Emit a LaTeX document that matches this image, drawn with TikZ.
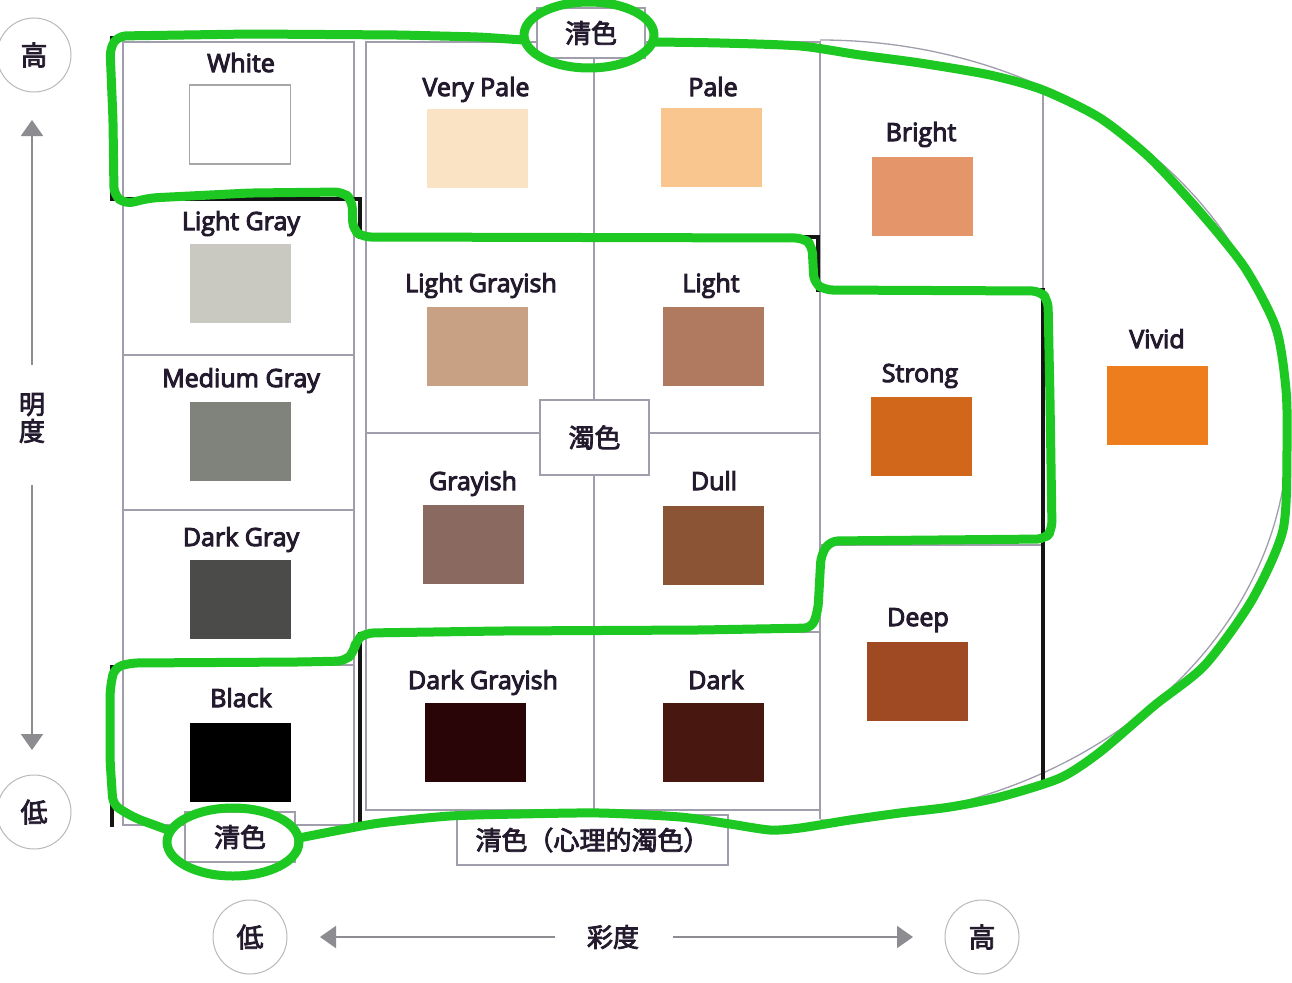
\documentclass[tikz,border=0pt]{standalone}
\usepackage{fontspec}
\setmainfont{Open Sans}
\newfontfamily\labfont{Open Sans}[FakeBold=4]
\newfontfamily\cjk{Noto Sans CJK JP}[FakeBold=3]
\usetikzlibrary{arrows.meta}
\definecolor{ink}{RGB}{35,26,46}
\definecolor{gridc}{RGB}{160,158,172}
\definecolor{axisc}{RGB}{140,140,145}
\definecolor{hand}{RGB}{30,200,35}
\definecolor{cVeryPale}{HTML}{FAE3C4}
\definecolor{cPale}{HTML}{F9C690}
\definecolor{cBright}{HTML}{E5956A}
\definecolor{cLightGray}{HTML}{C9C9C1}
\definecolor{cLightGrayish}{HTML}{C8A083}
\definecolor{cLight}{HTML}{AF7A60}
\definecolor{cVivid}{HTML}{EE7D1D}
\definecolor{cStrong}{HTML}{D0671A}
\definecolor{cMediumGray}{HTML}{80827C}
\definecolor{cGrayish}{HTML}{8A6A60}
\definecolor{cDull}{HTML}{8B5535}
\definecolor{cDarkGray}{HTML}{4B4C49}
\definecolor{cDeep}{HTML}{A04A24}
\definecolor{cDarkGrayish}{HTML}{2A0507}
\definecolor{cDark}{HTML}{48170F}
\begin{document}
\begin{tikzpicture}[x=1pt,y=-1pt,
  gridline/.style={draw=gridc, line width=1.3pt},
  blk/.style={draw=black!92, line width=4pt},
  lab/.style={font=\labfont\fontsize{25}{28}\selectfont, text=ink, inner sep=0pt, anchor=base},
  sw/.style={minimum width=101pt, minimum height=79pt, inner sep=0pt, draw=none},
  cj/.style={font=\cjk\fontsize{26}{27}\selectfont, text=ink, inner sep=0pt, align=center},
  circ/.style={circle, draw=gray!55, line width=1pt, minimum size=74pt, inner sep=0pt, fill=white, font=\cjk\fontsize{27}{30}\selectfont, text=ink},
  tagbox/.style={draw=gridc, line width=1.2pt, fill=white, inner sep=0pt, font=\cjk\fontsize{26}{30}\selectfont, text=ink},
  arr/.style={draw=axisc, line width=2pt, -{Triangle[width=22pt,length=16pt]}},
  gline/.style={draw=hand, line width=9pt, line cap=round, line join=round}
]
\fill[white] (0,0) rectangle (1292,982);
\useasboundingbox (0,0) rectangle (1292,982);

% ---- thin grid ----
\draw[gridline] (123,42) rectangle (354,825);
\draw[gridline] (123,355) -- (354,355);
\draw[gridline] (123,510) -- (354,510);
\draw[gridline] (123,665) -- (354,665);
\draw[gridline] (366,42) rectangle (820,810);
\draw[gridline] (594,42) -- (594,810);
\draw[gridline] (366,237) -- (820,237);
\draw[gridline] (366,433) -- (820,433);
\draw[gridline] (366,632) -- (820,632);
\draw[gridline] (820,810) -- (820,819);
\draw[gridline] (820,290) -- (1043,290);
\draw[gridline] (820,545) -- (1043,545);
\draw[gridline] (1043,88) -- (1043,290);
\draw[gridline] (820,40) arc[start angle=-90, end angle=90, x radius=468, y radius=390];

% ---- thick dark edges ----
\draw[blk] (112,36) -- (112,199) -- (360,199) -- (360,237) -- (818,237) -- (818,290) -- (1043,290) -- (1043,780);
\draw[blk] (112,665) -- (112,827);
\draw[blk] (360,632) -- (360,827);
\draw[black, line width=2pt, dash pattern=on 7pt off 4pt] (560,627) -- (740,627);

% ---- swatches ----
\node[sw, draw=gray!70, line width=1.2pt, fill=white] (sWhite) at (240,124.5) {};
\node[sw, fill=cLightGray] (sLightGray) at (240.5,283) {};
\node[sw, fill=cMediumGray] (sMediumGray) at (240.5,441) {};
\node[sw, fill=cDarkGray] (sDarkGray) at (240,599) {};
\node[sw, fill=black] (sBlack) at (240,762) {};
\node[sw, fill=cVeryPale] (sVeryPale) at (477.5,148) {};
\node[sw, fill=cPale] (sPale) at (711,147.5) {};
\node[sw, fill=cLightGrayish] (sLightGrayish) at (477,346) {};
\node[sw, fill=cLight] (sLight) at (713,346) {};
\node[sw, fill=cGrayish] (sGrayish) at (473.5,544) {};
\node[sw, fill=cDull] (sDull) at (713.5,545.5) {};
\node[sw, fill=cDarkGrayish] (sDarkGrayish) at (475.5,742.5) {};
\node[sw, fill=cDark] (sDark) at (713.5,742.5) {};
\node[sw, fill=cBright] (sBright) at (922,196) {};
\node[sw, fill=cStrong] (sStrong) at (921,436) {};
\node[sw, fill=cDeep] (sDeep) at (917.5,681) {};
\node[sw, fill=cVivid] (sVivid) at (1157.5,405.5) {};

% ---- labels ----
\node[lab] (lWhite) at (241,72) {White};
\node[lab] (lLightGray) at (241,230) {Light Gray};
\node[lab] (lMediumGray) at (241,387) {Medium Gray};
\node[lab] (lDarkGray) at (241,546) {Dark Gray};
\node[lab] (lBlack) at (241,707) {Black};
\node[lab] (lVeryPale) at (476,96) {Very Pale};
\node[lab] (lPale) at (713,96) {Pale};
\node[lab] (lLightGrayish) at (481,292) {Light Grayish};
\node[lab] (lLight) at (711,292) {Light};
\node[lab] (lGrayish) at (473,490) {Grayish};
\node[lab] (lDull) at (714,490) {Dull};
\node[lab] (lDarkGrayish) at (483,689) {Dark Grayish};
\node[lab] (lDark) at (716,689) {Dark};
\node[lab] (lBright) at (921,141) {Bright};
\node[lab] (lStrong) at (920,382) {Strong};
\node[lab] (lDeep) at (918,626) {Deep};
\node[lab] (lVivid) at (1157,348) {Vivid};

% ---- tag boxes ----
\node[tagbox, minimum width=108pt, minimum height=50pt] (qTop) at (591,33) {清色};
\node[tagbox, minimum width=110pt, minimum height=50pt] (qBot) at (240,837) {清色};
\node[tagbox, minimum width=271pt, minimum height=50pt] (qMid) at (592.5,840) {清色（心理的濁色）};
\node[tagbox, minimum width=109pt, minimum height=75pt] (zhuo) at (594.5,437.5) {濁色};

% ---- axes ----
\node[circ] (hiV) at (34,55) {高};
\node[circ] (loV) at (34,812) {低};
\node[circ] (loH) at (250,937) {低};
\node[circ] (hiH) at (982,937) {高};
\node[cj] (mingdu) at (32,418) {明\\度};
\node[cj] (saidu) at (613,937) {彩度};
\coordinate (vUpS) at (32,365);
\coordinate (vUpE) at (32,120);
\coordinate (vDnS) at (32,485);
\coordinate (vDnE) at (32,750);
\coordinate (hLS) at (555,937);
\coordinate (hLE) at (320,937);
\coordinate (hRS) at (673,937);
\coordinate (hRE) at (913,937);
\draw[arr] (vUpS) -- (vUpE);
\draw[arr] (vDnS) -- (vDnE);
\draw[arr] (hLS) -- (hLE);
\draw[arr] (hRS) -- (hRE);

% ---- hand-drawn green outline ----
\draw[gline] plot[smooth, tension=0.45] coordinates {(653,42) (720,43) (800,46) (860,55) (920,63) (990,75) (1043,90) (1100,118) (1150,158) (1200,212) (1245,268) (1276,328) (1286,390) (1287,450) (1283,530) (1252,600) (1205,665) (1155,705) (1100,752) (1060,778) (1000,797) (950,807) (900,813) (850,820) (800,828) (770,830) (730,824) (680,817) (600,813) (520,814) (450,816) (380,823) (340,830) (299,838)};
\draw[gline, rounded corners=8pt] (168,830) -- (135,818) -- (113,805) -- (110,760) -- (110,690) -- (114,668) -- (130,663) -- (300,662) -- (345,661) -- (354,652) -- (356,640) -- (366,633) -- (500,631) -- (700,630) -- (812,628) -- (818,610) -- (821,555) -- (830,541) -- (1045,539) -- (1052,530) -- (1050,400) -- (1048,300) -- (1040,291) -- (825,290) -- (814,283) -- (812,245) -- (803,238) -- (363,237) -- (353,230) -- (352,200) -- (343,192) -- (250,193) -- (150,198) -- (125,204) -- (114,195) -- (113,120) -- (110,48) -- (118,36) -- (250,34) -- (400,35) -- (480,37) -- (523,40);
\draw[gline] (589,35) ellipse[x radius=65, y radius=33];
\draw[gline] (233,842) ellipse[x radius=66, y radius=34];
\end{tikzpicture}
\end{document}
